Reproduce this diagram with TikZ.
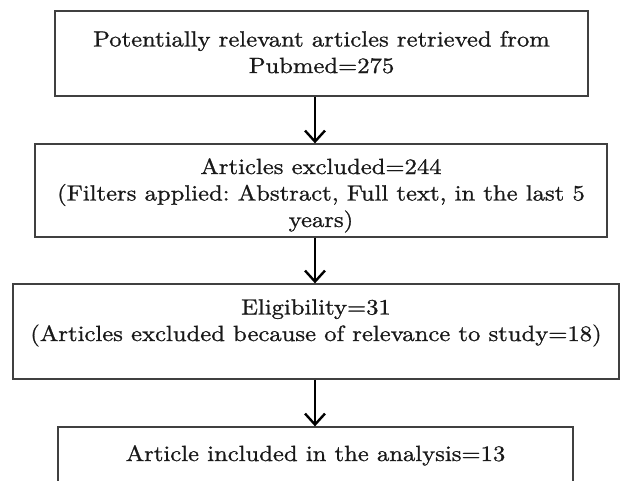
\documentclass[tikz,border=0pt]{standalone}
\usepackage{fontspec}
\setmainfont{lmroman10-regular.otf}[FakeStretch=1.12, FakeBold=1]
\usetikzlibrary{calc}
\usetikzlibrary{arrows.meta}
\usetikzlibrary{positioning}
\frenchspacing

\tikzset{
 stepbox/.style={draw=black!75, line width=1.3pt, inner sep=0},
 steptext/.style={anchor=base, align=center, inner sep=0, text=black!90, font=\fontsize{22}{26.5}\selectfont},
 flow/.style={black, line width=2.4pt, -{Straight Barb[length=11pt, width=20pt, line width=2.4pt]}}
}

\begin{document}
\begin{tikzpicture}[x=1pt, y=-1pt]
\useasboundingbox (0,0) rectangle (621,480);
\fill[white] (0,0) rectangle (621,480);
\clip (0,0) rectangle (621,480);
\coordinate (spine) at (315,0);

\node[stepbox, minimum width=533pt, minimum height=85pt] (pub) at (321.5,53.5) {};
\node[stepbox, minimum width=572pt, minimum height=93pt] (excl) at (321,190.5) {};
\node[stepbox, minimum width=606pt, minimum height=95pt] (elig) at (316,331.5) {};
\node[stepbox, minimum width=515pt, minimum height=63pt] (incl) at (315.5,458.5) {};

\node[steptext] (pubtxt) at (pub.center |- 0,73) {Potentially relevant articles retrieved from\\Pubmed=275};
\node[steptext] (excltxt) at (excl.center |- 0,227) {Articles excluded=244\\(Filters applied: Abstract, Full text, in the last 5\\years)};
\node[steptext] (eligtxt) at (elig.center |- 0,341) {Eligibility=31\\(Articles excluded because of relevance to study=18)};
\node[steptext] (incltxt) at (incl.center |- 0,461) {Article included in the analysis=13};

\foreach \a/\b in {pub/excl, excl/elig, elig/incl} {
 \draw[flow] (\a.south -| spine) -- (\b.north -| spine);
}
\end{tikzpicture}
\end{document}
